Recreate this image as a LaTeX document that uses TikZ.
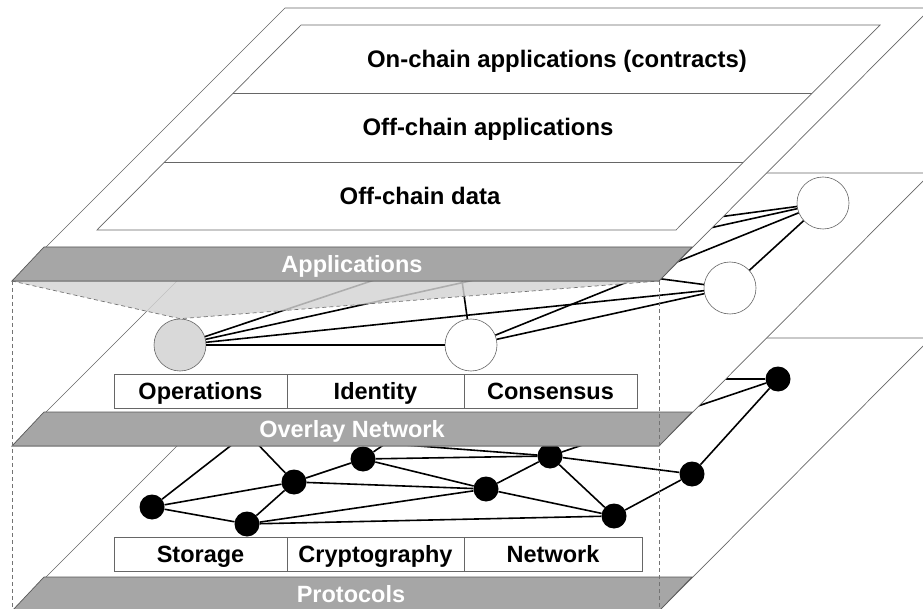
\documentclass[tikz,border=0pt]{standalone}
\usepackage{fontspec}
\setmainfont{Liberation Sans}
\usepackage{tikz}
\usetikzlibrary{positioning}

\begin{document}
\begin{tikzpicture}[x=1pt, y=-1pt,
    plane/.style={draw=black!60, line width=0.7pt, fill=white},
    band/.style={draw=black!65, line width=0.7pt, fill=black!35},
    bandlabel/.style={text=white, text height=17pt, text depth=0pt, font=\fontsize{23.5}{28}\selectfont\bfseries},
    rowlabel/.style={text height=17pt, text depth=0pt, font=\fontsize{23.9}{28}\selectfont\bfseries},
    cell/.style={draw=black!60, line width=0.7pt, fill=white, minimum height=34pt,
                 text height=17pt, text depth=0pt,
                 inner sep=0pt, outer sep=0pt, font=\fontsize{23.5}{28}\selectfont\bfseries},
    peer/.style={circle, draw=black!60, line width=0.6pt, fill=white, minimum size=52pt, inner sep=0pt},
    gateway/.style={peer, fill=black!15},
    host/.style={circle, fill=black, minimum size=25pt, inner sep=0pt},
    link/.style={line width=1.6pt},
    proj/.style={draw=black!55, line width=0.7pt, dash pattern=on 4pt off 3pt}]
    \useasboundingbox (0,0) rectangle (923,609);
    \clip (0,0) rectangle (923,609);

    % Protocols layer
    \draw [plane] (285,338) -- (931,338) -- (659,611) -- (12,611) -- cycle;
    \draw [band] (12,611) -- (44,577) -- (692,577) -- (659,611) -- cycle;
    \node [bandlabel] (protlbl) at (351,594) {Protocols};
    \node [cell, minimum width=173pt] (stor) at (200.5,554) {Storage};
    \node [cell, minimum width=177pt, right=0pt of stor] (crypt) {Cryptography};
    \node [cell, minimum width=178pt, right=0pt of crypt] (net) {Network};

    % Nodes
    \node [host] (p1) at (152,507) {};
    \node [host] (p2) at (247,524) {};
    \node [host] (p3) at (294,482) {};
    \node [host] (p4) at (363,459) {};
    \node [host] (p5) at (486,489) {};
    \node [host] (p6) at (550,456) {};
    \node [host] (p7) at (614,516) {};
    \node [host] (p8) at (692,474) {};
    \node [host] (p9) at (778,379) {};
    \coordinate (q1) at (247,433);
    \coordinate (q2) at (480,379);
    % Links
    \draw [link] (p1) -- (p2);
    \draw [link] (p1) -- (p3);
    \draw [link] (p1) -- (q1);
    \draw [link] (p2) -- (p3);
    \draw [link] (p2) -- (p5);
    \draw [link] (p2) -- (p7);
    \draw [link] (p3) -- (p4);
    \draw [link] (p3) -- (p5);
    \draw [link] (p3) -- (q1);
    \draw [link] (p4) -- (p5);
    \draw [link] (p4) -- (p6);
    \draw [link] (p4) -- (q2);
    \draw [link] (p5) -- (p6);
    \draw [link] (p5) -- (p7);
    \draw [link] (p6) -- (p7);
    \draw [link] (p6) -- (p8);
    \draw [link] (p6) -- (q1);
    \draw [link] (p6) -- (p9);
    \draw [link] (p7) -- (p8);
    \draw [link] (p8) -- (p9);
    \draw [link] (p9) -- (q2);

    % Overlay Network layer
    \draw [plane] (285,173) -- (931,173) -- (659,446) -- (12,446) -- cycle;
    \draw [band] (12,446) -- (44,412) -- (692,412) -- (659,446) -- cycle;
    \node [bandlabel] (ovlbl) at (352,429) {Overlay Network};
    \node [cell, minimum width=173pt] (ops) at (200.5,391) {Operations};
    \node [cell, minimum width=177pt, right=0pt of ops] (ident) {Identity};
    \node [cell, minimum width=173pt, right=0pt of ident] (cons) {Consensus};

    % Nodes
    \node [gateway] (ga) at (180,345) {};
    \node [peer] (pb) at (471,345) {};
    \node [peer] (pc) at (730,288) {};
    \node [peer] (pd) at (823,203) {};
    \coordinate (hub) at (458,252);
    % Links
    \draw [link] (ga) -- (pb);
    \draw [link] (ga) -- (pc);
    \draw [link] (ga) -- (pd);
    \draw [link] (ga) -- (hub);
    \draw [link] (pb) -- (pc);
    \draw [link] (pb) -- (pd);
    \draw [link] (pb) -- (hub);
    \draw [link] (pc) -- (pd);
    \draw [link] (pc) -- (hub);
    \draw [link] (pd) -- (hub);

    % projection of the applications onto the gateway
    \coordinate (appsw) at (12,281);
    \coordinate (appse) at (659,281);
    \fill [black!17, fill opacity=0.82] (appsw) -- (ga.north) -- (appse) -- cycle;
    \draw [proj] (appsw) -- (ga.north) -- (appse);

    % Applications layer
    \draw [plane] (285,8) -- (931,8) -- (appse) -- (appsw) -- cycle;
    \draw [band] (appsw) -- (44,247) -- (692,247) -- (appse) -- cycle;
    \node [bandlabel] (applbl) at (352,264) {Applications};
    \draw [draw=black!60, line width=0.7pt] (301,25) -- (880,25) -- (676,230) -- (97,230) -- cycle;
    \draw [draw=black!60, line width=0.7pt] (233,93) -- (812,93);
    \draw [draw=black!60, line width=0.7pt] (164,162) -- (743,162);
    \node [rowlabel] (onchain) at (557,59) {On-chain applications (contracts)};
    \node [rowlabel] (offapps) at (488,127) {Off-chain applications};
    \node [rowlabel] (offdata) at (420,196) {Off-chain data};

    % drop lines
    \draw [proj] (appsw) -- (appsw |- 0,611);
    \draw [proj] (appse) -- (appse |- 0,611);
\end{tikzpicture}
\end{document}
